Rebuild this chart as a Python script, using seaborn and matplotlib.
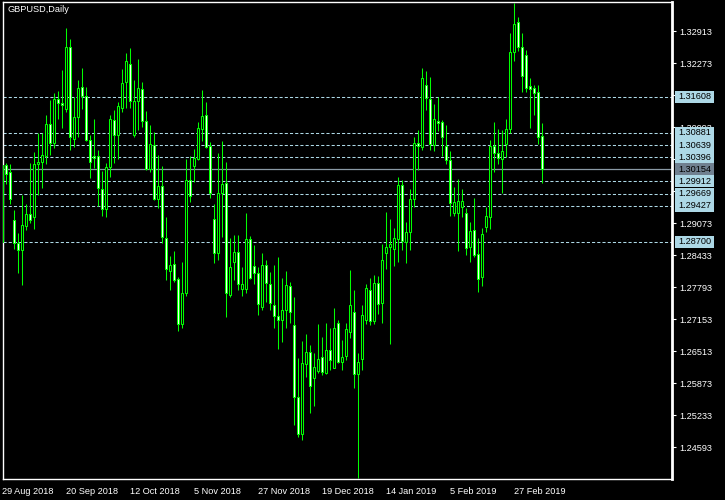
import matplotlib
matplotlib.use('Agg')
import matplotlib.pyplot as plt
import matplotlib.transforms as mtransforms
from matplotlib.patches import Rectangle
import numpy as np
import pandas as pd
import seaborn as sns

# GBPUSD daily candles, 29 Aug 2018 -> 8 Mar 2019
opens = [1.28699, 1.30233, 1.30093, 1.29133, 1.28679, 1.28533, 1.29013, 1.29253, 1.29205, 1.30253,
         1.30293, 1.30425, 1.31059, 1.30673, 1.31559, 1.31479, 1.31353, 1.32593, 1.30753, 1.31193,
         1.31805, 1.31625, 1.30733, 1.30413, 1.30413, 1.29753, 1.29365, 1.30193, 1.31139, 1.30839,
         1.31385, 1.31893, 1.32259, 1.30839, 1.31519, 1.31753, 1.31113, 1.30153, 1.30633, 1.29553,
         1.29813, 1.28773, 1.28125, 1.28253, 1.27953, 1.27065, 1.27673, 1.29933, 1.30225, 1.30353,
         1.30953, 1.31233, 1.30619, 1.29153, 1.28473, 1.29673, 1.29873, 1.27633, 1.28305, 1.28493,
         1.27753, 1.27765, 1.28753, 1.28219, 1.28073, 1.27405, 1.28233, 1.27853, 1.27439, 1.27225,
         1.27145, 1.27333, 1.27819, 1.27039, 1.25599, 1.24865, 1.26253, 1.26493, 1.25985, 1.26119,
         1.26393, 1.26085, 1.26533, 1.26185, 1.27073, 1.26299, 1.26425, 1.26905, 1.27293, 1.26053,
         1.26365, 1.27139, 1.27733, 1.27125, 1.27873, 1.27485, 1.28485, 1.28593, 1.28565, 1.28765,
         1.29839, 1.28705, 1.28905, 1.29553, 1.30673, 1.30605, 1.31833, 1.31553, 1.30639, 1.31125,
         1.31093, 1.30625, 1.30339, 1.29273, 1.29273, 1.29393, 1.29273, 1.28593, 1.28939, 1.28453,
         1.27993, 1.29005, 1.29205, 1.30619, 1.30485, 1.30353, 1.30659, 1.30953, 1.32493, 1.33093,
         1.32605, 1.32439, 1.31819, 1.31773, 1.31693, 1.30819]
highs = [1.30279, 1.30273, 1.30259, 1.29339, 1.28879, 1.29633, 1.29459, 1.30273, 1.30505, 1.30873,
         1.30873, 1.31239, 1.31539, 1.31673, 1.31719, 1.32139, 1.32973, 1.32753, 1.31605, 1.31939,
         1.32173, 1.31793, 1.30839, 1.31159, 1.30539, 1.30125, 1.30273, 1.31239, 1.31339, 1.31505,
         1.32159, 1.32473, 1.32573, 1.31939, 1.32353, 1.31905, 1.31319, 1.31039, 1.30893, 1.30433,
         1.30219, 1.29205, 1.28419, 1.28519, 1.28005, 1.28305, 1.30359, 1.30419, 1.30559, 1.31093,
         1.31739, 1.31493, 1.30699, 1.29459, 1.30485, 1.30719, 1.30299, 1.28773, 1.28839, 1.28839,
         1.28193, 1.29273, 1.28819, 1.28639, 1.28193, 1.28485, 1.28339, 1.28099, 1.28239, 1.28399,
         1.27979, 1.28119, 1.27893, 1.27605, 1.26373, 1.26725, 1.26859, 1.26639, 1.26473, 1.27059,
         1.26793, 1.27073, 1.26973, 1.27373, 1.27133, 1.26739, 1.27073, 1.28139, 1.27739, 1.26473,
         1.27439, 1.27853, 1.27979, 1.28039, 1.28019, 1.28659, 1.29299, 1.29165, 1.28979, 1.29993,
         1.29939, 1.29099, 1.29759, 1.30805, 1.30939, 1.32173, 1.32119, 1.31999, 1.31459, 1.31605,
         1.31139, 1.31039, 1.30519, 1.29793, 1.29959, 1.29753, 1.29373, 1.29099, 1.29585, 1.28773,
         1.28973, 1.29393, 1.30739, 1.31105, 1.30953, 1.30939, 1.31153, 1.32885, 1.33485, 1.33205,
         1.32873, 1.32539, 1.31973, 1.31839, 1.31839, 1.31073]
lows = [1.28679, 1.29853, 1.29453, 1.28553, 1.28085, 1.27839, 1.28939, 1.29085, 1.28953, 1.29639,
        1.29785, 1.30253, 1.30439, 1.30573, 1.31159, 1.30973, 1.31305, 1.30539, 1.30605, 1.30805,
        1.31353, 1.30725, 1.29973, 1.30173, 1.29419, 1.29219, 1.29205, 1.29993, 1.30273, 1.30353,
        1.31293, 1.31373, 1.31373, 1.30805, 1.30939, 1.31005, 1.30139, 1.30105, 1.29539, 1.29373,
        1.28673, 1.27939, 1.27739, 1.27905, 1.26925, 1.26973, 1.27619, 1.29505, 1.29905, 1.30339,
        1.30725, 1.30579, 1.29573, 1.28273, 1.28339, 1.28793, 1.27205, 1.27593, 1.27939, 1.27739,
        1.27619, 1.27673, 1.27953, 1.27859, 1.27239, 1.27339, 1.27505, 1.27339, 1.26973, 1.26559,
        1.26705, 1.26985, 1.27085, 1.25039, 1.24805, 1.24739, 1.26005, 1.25273, 1.25419, 1.26073,
        1.26039, 1.26059, 1.26139, 1.26173, 1.26273, 1.26139, 1.26339, 1.26773, 1.25785, 1.23979,
        1.26139, 1.27059, 1.27039, 1.27059, 1.27259, 1.27079, 1.28159, 1.26659, 1.28219, 1.28299,
        1.28539, 1.28285, 1.28539, 1.29405, 1.30139, 1.30539, 1.31339, 1.30539, 1.30525, 1.30925,
        1.30419, 1.30259, 1.29219, 1.29219, 1.28525, 1.29205, 1.28439, 1.28305, 1.28405, 1.27705,
        1.27825, 1.28905, 1.28953, 1.30105, 1.30259, 1.29685, 1.30405, 1.30879, 1.32319, 1.32525,
        1.31705, 1.31705, 1.30973, 1.31239, 1.30659, 1.29885]
closes = [1.30239, 1.30053, 1.29553, 1.28673, 1.28539, 1.29033, 1.29253, 1.29145, 1.30253, 1.30293,
          1.30433, 1.31059, 1.30685, 1.31559, 1.31473, 1.31433, 1.32593, 1.30793, 1.31193, 1.31773,
          1.31625, 1.30733, 1.30293, 1.30373, 1.29773, 1.29353, 1.30193, 1.31159, 1.30839, 1.31419,
          1.31879, 1.32319, 1.31525, 1.31519, 1.31773, 1.31125, 1.30165, 1.30653, 1.29553, 1.29813,
          1.28793, 1.28153, 1.28233, 1.27939, 1.27065, 1.27673, 1.29939, 1.29625, 1.30385, 1.30973,
          1.31219, 1.30593, 1.29685, 1.28473, 1.29673, 1.29853, 1.27685, 1.28205, 1.28493, 1.27853,
          1.27853, 1.28753, 1.27985, 1.28073, 1.27453, 1.28233, 1.27885, 1.27473, 1.27225, 1.27145,
          1.27333, 1.27839, 1.27305, 1.25605, 1.24865, 1.26273, 1.26493, 1.25825, 1.26193, 1.26365,
          1.26093, 1.26533, 1.26339, 1.26973, 1.26299, 1.26405, 1.26953, 1.27439, 1.26053, 1.26293,
          1.27233, 1.27773, 1.27125, 1.27873, 1.27453, 1.28339, 1.28599, 1.28659, 1.28773, 1.29839,
          1.28725, 1.28899, 1.29553, 1.30673, 1.30625, 1.31973, 1.31573, 1.30653, 1.31153, 1.31073,
          1.30805, 1.30345, 1.29485, 1.29499, 1.29513, 1.29513, 1.28573, 1.28919, 1.28439, 1.27965,
          1.28859, 1.29219, 1.30619, 1.30485, 1.30373, 1.30525, 1.30953, 1.32493, 1.33053, 1.32605,
          1.32025, 1.31773, 1.31759, 1.31673, 1.30793, 1.30154]

first_day = '2018-08-29'
holidays = ['2018-12-25', '2019-01-01']

price_ticks = [1.32913, 1.32273, 1.31633, 1.30993, 1.30353, 1.29713, 1.29073,
               1.28433, 1.27793, 1.27153, 1.26513, 1.25873, 1.25233, 1.24593]
hidden_ticks = [1.31633, 1.30353, 1.29713]   # fully covered by the price boxes
level_lines = [1.31608, 1.30881, 1.30639, 1.30396, 1.29912, 1.29669, 1.29427, 1.28700]
bid_price = 1.30154
title = 'GBPUSD,Daily'

dates = pd.bdate_range(first_day, periods=len(opens), freq='C', holidays=holidays)
df = pd.DataFrame({'open': opens, 'high': highs, 'low': lows, 'close': closes}, index=dates)
df['x'] = np.arange(len(df))
df['bull'] = df['close'] >= df['open']

sns.set_theme(style='dark', rc={'axes.facecolor': 'black', 'figure.facecolor': 'black',
                                'axes.edgecolor': 'white', 'axes.grid': False})
plt.rcParams['font.family'] = ['Liberation Sans', 'DejaVu Sans']

green = '#00ff00'
fig = plt.figure(figsize=(7.25, 5), dpi=100)
ax = fig.add_axes([2.5 / 725, 1 - 478.5 / 500, 669.5 / 725, 476.5 / 500])

# wicks
ax.vlines(df['x'], df['low'], df['high'], color=green, lw=0.75, zorder=2)
# bodies: hollow for up days, white for down days
body_lo = df[['open', 'close']].min(axis=1)
body_h = (df['close'] - df['open']).abs()
ax.bar(df['x'], body_h, bottom=body_lo, width=0.5,
       color=np.where(df['bull'], 'black', 'white'), edgecolor=green, linewidth=0.75, zorder=3)

for lv in level_lines:
    ax.axhline(lv, color='#add8e6', lw=0.75, ls=(0, (3, 2)), zorder=1)
ax.axhline(bid_price, color='#8a9aa6', lw=0.9, zorder=1)

ax.set_xlim(0.05, 167.42)
ax.set_ylim(1.23969, 1.33499)

# axes styling
for side in ['left', 'top', 'bottom', 'right']:
    ax.spines[side].set_color('white')
    ax.spines[side].set_linewidth(1)
ax.spines['right'].set_linewidth(2)

ax.yaxis.tick_right()
ax.set_yticks(price_ticks)
ax.set_yticklabels(['' if p in hidden_ticks else f'{p:.5f}' for p in price_ticks])
ax.tick_params(axis='y', colors='white', length=3, width=0.8, pad=2, labelsize=6.6, direction='out')

tick_idx = list(range(0, len(df), 16))
ax.set_xticks(tick_idx)
ax.set_xticklabels([f'{d.day} {d:%b %Y}' for d in dates[tick_idx]])
ax.tick_params(axis='x', colors='white', length=3.5, width=0.8, pad=2.5, labelsize=6.6, direction='out')
for lab in ax.get_xticklabels():
    lab.set_horizontalalignment('left')
ax.set_xlabel('')
ax.set_ylabel('')

# price labels on the right axis
trans = mtransforms.blended_transform_factory(ax.transAxes, ax.transData)
box_x0 = (675 - 2.5) / 669.5
box_w = 39 / 669.5
box_h = 0.0024
for lv in level_lines + [bid_price]:
    fc = '#708090' if lv == bid_price else '#add8e6'
    ax.add_patch(Rectangle((box_x0, lv - box_h / 2), box_w, box_h, transform=trans,
                           facecolor=fc, edgecolor='none', clip_on=False, zorder=5))
    ax.text((678.5 - 2.5) / 669.5, lv, f'{lv:.5f}', transform=trans, color='black',
            fontsize=6.6, va='center', ha='left', zorder=6, clip_on=False)

ax.text(4.5 / 669.5, 1 - 8 / 476.5, title, transform=ax.transAxes, color='white',
        fontsize=6.6, va='center', ha='left', zorder=6)

fig.savefig('out.png', dpi=100, facecolor='black')
